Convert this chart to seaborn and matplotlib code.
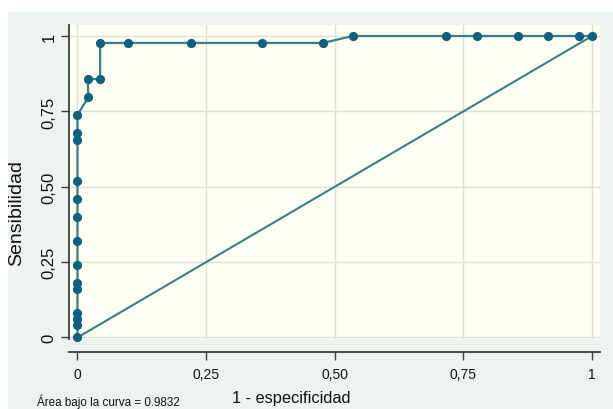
import matplotlib
matplotlib.use("Agg")
import matplotlib.pyplot as plt
import seaborn as sns
import pandas as pd
from matplotlib.patches import Rectangle

# ROC curve points (1 - specificity, sensitivity)
fpr = [0, 0, 0, 0, 0, 0, 0, 0, 0, 0, 0, 0, 0, 0,
       0.021, 0.02, 0.044, 0.044, 0.099, 0.221, 0.358, 0.477,
       0.535, 0.717, 0.777, 0.857, 0.915, 0.975, 1.0]
tpr = [0, 0.04, 0.06, 0.08, 0.16, 0.18, 0.24, 0.32, 0.40, 0.46, 0.52, 0.656, 0.677, 0.738,
       0.797, 0.857, 0.857, 0.977, 0.977, 0.977, 0.977, 0.977,
       1.0, 1.0, 1.0, 1.0, 1.0, 1.0, 1.0]
ref_x = [0, 1]
ref_y = [0, 1]
tick_vals = [0, 0.25, 0.5, 0.75, 1]
tick_labels = ["0", "0,25", "0,50", "0,75", "1"]
xlabel = "1 - especificidad"
ylabel = "Sensibilidad"
caption = "Área bajo la curva = 0.9832"

sns.set_style("white")
plt.rcParams['font.family'] = ['Liberation Sans', 'DejaVu Sans']

W, H = 613, 410
fig = plt.figure(figsize=(W / 100, H / 100), dpi=100, facecolor="white")
outer = "#edf3ef"
fig.patches.append(Rectangle((8 / W, 0), 1 - 8 / W, 1 - 13 / H, transform=fig.transFigure,
                             facecolor=outer, edgecolor="none", zorder=-10))

left, right, top, bottom = 69, 600, 26, 340
ax = fig.add_axes([left / W, 1 - bottom / H, (right - left) / W, (bottom - top) / H])
ax.set_facecolor("#fefef2")

df = pd.DataFrame({"fpr": fpr, "tpr": tpr})
ref = pd.DataFrame({"x": ref_x, "y": ref_y})
line_col = "#3a7f86"
mark_col = "#10607f"

sns.lineplot(data=ref, x="x", y="y", ax=ax, color=line_col, linewidth=1.5, sort=False,
             estimator=None, zorder=3)
sns.lineplot(data=df, x="fpr", y="tpr", ax=ax, color=line_col, linewidth=1.6, sort=False,
             estimator=None, zorder=4)
sns.scatterplot(data=df, x="fpr", y="tpr", ax=ax, color=mark_col, s=44, linewidth=0,
                zorder=5, clip_on=False)

ax.set_xlim(-0.0165, 1.0155)
ax.set_ylim(-0.005, 1.0365)
ax.set_xticks(tick_vals)
ax.set_xticklabels(tick_labels, fontsize=10.5)
ax.set_yticks(tick_vals)
ax.set_yticklabels(tick_labels, fontsize=12, rotation=90, va="center")
ax.grid(True, color="#d8e2df", linewidth=1.0)
ax.set_axisbelow(True)

for s in ["top", "right"]:
    ax.spines[s].set_visible(False)
for s in ["left", "bottom"]:
    ax.spines[s].set_color("#3c3c3c")
    ax.spines[s].set_linewidth(1.3)
ax.spines["bottom"].set_position(("outward", 9))
ax.tick_params(axis="both", direction="out", length=6, width=1.0, color="#3c3c3c",
               labelcolor="#111111", left=True, bottom=True)
ax.tick_params(axis="x", pad=5)
ax.tick_params(axis="y", pad=3)

ax.set_xlabel(xlabel, fontsize=11.8, color="#111111")
ax.set_ylabel(ylabel, fontsize=14, color="#111111")
ax.xaxis.set_label_coords((291 - left) / (right - left), (bottom - 391) / (bottom - top))
ax.yaxis.set_label_coords((25 - left) / (right - left), (bottom - 213) / (bottom - top))

fig.text(37 / W, 1 - 409 / H, caption, fontsize=8.4, va="bottom", ha="left", color="#111111")

fig.savefig("out.png", dpi=100, facecolor="white")
